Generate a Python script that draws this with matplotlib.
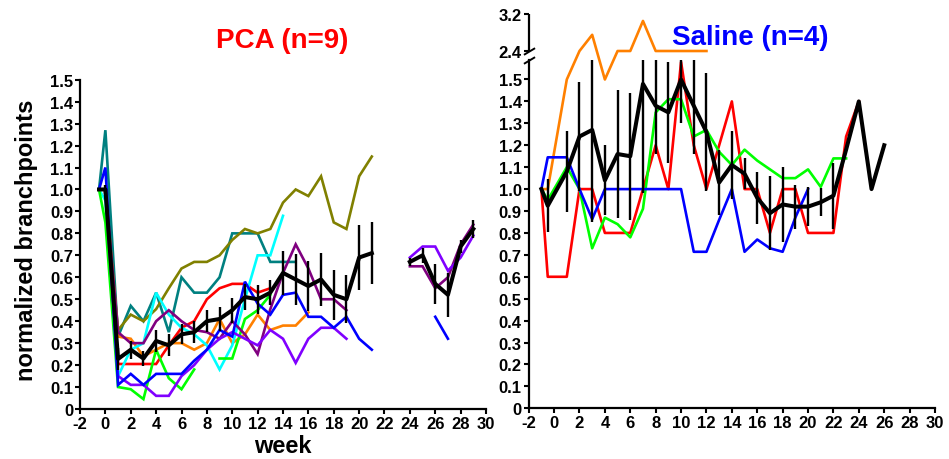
import numpy as np
import matplotlib
matplotlib.use("Agg")
import matplotlib.pyplot as plt
from matplotlib.transforms import Bbox, TransformedBbox

plt.rcParams['font.family'] = ['Liberation Sans', 'DejaVu Sans']
plt.rcParams['font.weight'] = 'bold'

nan = np.nan

# ---------------- PCA group (left panel) ----------------
pca_weeks = [-0.5, 0] + list(range(1, 30))
pca_teal = [1.0, 1.27, 0.33, 0.47, 0.40, 0.53, 0.35, 0.60, 0.53, 0.53, 0.60, 0.80, 0.80, 0.80,
            0.67, 0.67, 0.67] + [nan] * 14
pca_olive = [1.0, 1.0, 0.36, 0.43, 0.40, 0.455, 0.55, 0.64, 0.67, 0.67, 0.70, 0.77, 0.82, 0.80,
             0.82, 0.94, 1.0, 0.97, 1.06, 0.85, 0.82, 1.06, 1.15] + [nan] * 8
pca_red = [1.0, 1.0, 0.205, 0.205, 0.205, 0.205, 0.29, 0.37, 0.40, 0.50, 0.55, 0.57, 0.57, 0.53,
           0.55] + [nan] * 16
pca_green = [1.0, 0.85, 0.10, 0.09, 0.045, 0.27, 0.14, 0.09, 0.18, nan, 0.23, 0.23, 0.41, 0.45,
             0.52] + [nan] * 16
pca_cyan = [1.0, 0.95, 0.15, 0.27, 0.30, 0.53, 0.43, 0.37, 0.34, 0.29, 0.18, 0.29, 0.50, 0.70,
            0.70, 0.88] + [nan] * 15
pca_orange = [1.0, 1.0, 0.33, 0.32, 0.24, 0.27, 0.30, 0.30, 0.27, 0.30, 0.41, 0.30, 0.34, 0.43,
              0.36, 0.38, 0.38, 0.44] + [nan] * 13
pca_purple = [1.0, 1.0, 0.35, 0.30, 0.30, 0.40, 0.45, 0.40, 0.36, 0.35, 0.32, 0.40, 0.34, 0.25,
              0.455, 0.62, 0.75, 0.64, 0.50, 0.50, 0.45] + [nan] * 4 + [0.65, 0.65, 0.55, 0.60, 0.75, 0.84]
pca_violet = [1.0, 1.0, 0.15, 0.11, 0.11, 0.06, 0.06, 0.15, 0.20, 0.27, 0.32, 0.35, 0.32, 0.29,
              0.36, 0.32, 0.21, 0.32, 0.37, 0.37, 0.32] + [nan] * 4 + [0.69, 0.74, 0.74, 0.63, 0.69, 0.79]
pca_blue = [1.0, 1.1, 0.11, 0.16, 0.11, 0.16, 0.16, 0.16, 0.22, 0.27, 0.36, 0.33, 0.58, 0.48,
            0.43, 0.52, 0.53, 0.42, 0.42, 0.37, 0.42, 0.32, 0.27] + [nan] * 4 + [0.42, 0.32, nan, nan]
pca_mean = [1.0, 1.0, 0.228, 0.27, 0.23, 0.31, 0.29, 0.34, 0.35, 0.40, 0.41, 0.45, 0.51, 0.50,
            0.53, 0.62, 0.59, 0.56, 0.59, 0.52, 0.50, 0.69, 0.71, nan, nan,
            0.67, 0.70, 0.57, 0.52, 0.74, 0.82]
pca_sem = [nan, 0.02, 0.05, 0.04, 0.035, 0.05, 0.05, 0.045, 0.05, 0.05, 0.053, 0.057, 0.06, 0.065,
           0.057, 0.10, 0.114, 0.114, 0.12, 0.114, 0.11, 0.15, 0.14, nan, nan,
           0.02, 0.034, 0.09, 0.10, 0.03, 0.04]

pca_lines = [
    (pca_teal, '#008080'), (pca_olive, '#808000'), (pca_red, '#FF0000'),
    (pca_orange, '#FF8000'), (pca_cyan, '#00FFFF'), (pca_green, '#00FF00'),
    (pca_purple, '#800080'), (pca_violet, '#8000FF'), (pca_blue, '#0000FF'),
]

# ---------------- Saline group (right panel) ----------------
sal_weeks = [-1, -0.5] + list(range(1, 27))
sal_red = [1.0, 0.6, 0.6, 1.0, 1.0, 0.8, 0.8, 0.8, 1.0, 1.2, 1.0, 1.58, 1.2, 1.0, 1.2, 1.4,
           1.0, 1.0, 0.8, 1.0, 1.0, 0.8, 0.8, 0.8, 1.24, 1.4, nan, nan]
sal_green = [1.0, 0.95, 1.1, 1.0, 0.73, 0.87, 0.84, 0.78, 0.91, 1.35, 1.41, 1.41, 1.24, 1.27,
             1.17, 1.11, 1.18, 1.13, 1.09, 1.05, 1.05, 1.09, 1.01, 1.14, 1.14, nan, nan, nan]
sal_blue = [1.0, 1.145, 1.145, 1.0, 0.863, 1.0, 1.0, 1.0, 1.0, 1.0, 1.0, 1.0, 0.714, 0.714,
            0.86, 1.0, 0.714, 0.77, 0.73, 0.714, 0.87, 1.0] + [nan] * 6
sal_orange = [1.0, 1.0, 1.5, 2.4, 2.75, 1.5, 2.4, 2.4, 3.05, 2.4, 2.4, 2.4, 2.4, 2.4] + [nan] * 14
sal_mean = [1.0, 0.924, 1.08, 1.24, 1.27, 1.04, 1.16, 1.15, 1.48, 1.38, 1.35, 1.50, 1.38, 1.26,
            1.03, 1.11, 1.07, 0.96, 0.89, 0.93, 0.92, 0.92, 0.94, 0.97, 1.18, 1.40, 1.0, 1.20]
sal_sem = [nan, 0.12, 0.185, 0.25, 0.42, 0.16, 0.29, 0.29, 0.5, 0.22, 0.23, 0.20, 0.22, 0.27,
           0.15, 0.155, 0.07, 0.12, 0.17, 0.17, 0.10, 0.09, 0.065, 0.15, nan, nan, nan, nan]

sal_lines = [(sal_orange, '#FF8000'), (sal_red, '#FF0000'), (sal_green, '#00FF00'), (sal_blue, '#0000FF')]

x_ticks = list(range(-2, 31, 2))
low_ticks = [round(0.1 * i, 1) for i in range(16)]
low_labels = ['0'] + ['%.1f' % t for t in low_ticks[1:]]


# broken y axis of the saline panel: 1.59..2.4 squeezed into a small gap
def fwd(v):
    v = np.asarray(v, dtype=float)
    return np.where(v <= 1.59, v,
                    np.where(v < 2.4, 1.59 + (v - 1.59) * (0.04 / 0.81),
                             1.63 + (v - 2.4) * 0.211))


def inv(u):
    u = np.asarray(u, dtype=float)
    return np.where(u <= 1.59, u,
                    np.where(u < 1.63, 1.59 + (u - 1.59) * (0.81 / 0.04),
                             2.4 + (u - 1.63) / 0.211))


fig = plt.figure(figsize=(9.49, 4.6), dpi=100)
ax1 = fig.add_axes([80 / 949, 50 / 460, 406 / 949, 329.3 / 460])
ax2 = fig.add_axes([528.7 / 949, 50.7 / 460, 406.3 / 949, 394.3 / 460])


def style(ax):
    for s in ['top', 'right']:
        ax.spines[s].set_visible(False)
    for s in ['left', 'bottom']:
        ax.spines[s].set_linewidth(1.6)
    ax.tick_params(direction='out', length=3.5, width=1.5, labelsize=12, pad=1.5)
    ax.set_xlim(-2, 30)
    ax.set_xticks(x_ticks)
    ax.set_xticklabels([str(t) for t in x_ticks])


# left panel
for vals, col in pca_lines:
    ax1.plot(pca_weeks, vals, color=col, lw=1.9, solid_joinstyle='miter')
ax1.errorbar(pca_weeks, pca_mean, yerr=pca_sem, fmt='none', ecolor='black', elinewidth=1.7, capsize=0)
ax1.plot(pca_weeks, pca_mean, color='black', lw=2.9, zorder=5)
style(ax1)
ax1.set_ylim(0, 1.5)
ax1.set_yticks(low_ticks)
ax1.set_yticklabels(low_labels)

# right panel
ax2.set_yscale('function', functions=(fwd, inv))
for vals, col in sal_lines:
    ax2.plot(sal_weeks, vals, color=col, lw=1.9)
eb = ax2.errorbar(sal_weeks, sal_mean, yerr=sal_sem, fmt='none', ecolor='black', elinewidth=1.7, capsize=0)
ax2.plot(sal_weeks, sal_mean, color='black', lw=2.9, zorder=5)
style(ax2)
ax2.set_ylim(0, 3.2)
ax2.set_yticks(low_ticks + [2.4, 3.2])
ax2.set_yticklabels(low_labels + ['2.4', '3.2'])
# error bars stop at the axis break
clip = TransformedBbox(Bbox([[0, 0], [1, float(fwd(1.59) / fwd(3.2))]]), ax2.transAxes)
for lc in eb[2]:
    lc.set_clip_box(clip)
ax2.spines['left'].set_bounds(0, 1.59)
ax2.plot([-2, -2], [2.4, 3.2], color='black', lw=1.6, clip_on=False, solid_capstyle='butt')
ax2.plot([-2, -2], [1.59, 2.4], ls='none', marker=[(-1, -0.6), (1, 0.6)], markersize=8,
         mec='black', mfc='none', mew=1.4, clip_on=False)

fig.text(282 / 949, 1 - 41 / 460, 'PCA (n=9)', color='#FF0000', fontsize=20, ha='center', va='center')
fig.text(750 / 949, 1 - 38 / 460, 'Saline (n=4)', color='#0000FF', fontsize=20, ha='center', va='center')
fig.text(27 / 949, 1 - 240 / 460, 'normalized branchpoints', fontsize=17, rotation=90,
         ha='center', va='center')
fig.text(283 / 949, 1 - 447 / 460, 'week', fontsize=17, ha='center', va='center')

fig.savefig('out.png', dpi=100)
